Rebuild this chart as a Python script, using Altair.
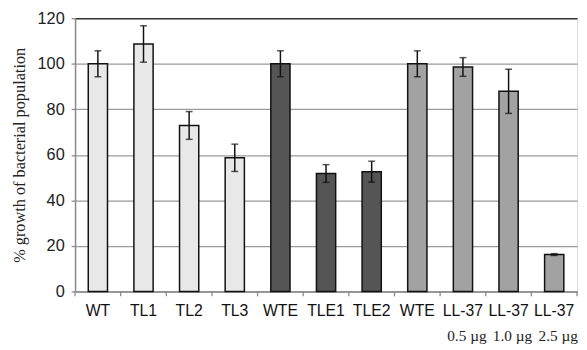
import altair as alt
import pandas as pd

ids = ["WT|1", "TL1|1", "TL2|1", "TL3|1", "WTE|1", "TLE1|1", "TLE2|1",
       "WTE|2", "LL-37|1", "LL-37|2", "LL-37|3"]
values = [100, 108.7, 72.9, 58.7, 100, 51.8, 52.6, 100, 98.6, 87.9, 16.2]
errors = [5.7, 8.0, 6.1, 6.0, 5.7, 3.9, 4.6, 5.7, 4.1, 9.7, 0.4]
groups = ["dots"] * 4 + ["check"] * 3 + ["hatch"] * 4
doses = ["", "", "", "", "", "", "", "", "0.5 µg", "1.0 µg", "2.5 µg"]

df = pd.DataFrame({
    "id": ids,
    "value": values,
    "lo": [v - e for v, e in zip(values, errors)],
    "hi": [v + e for v, e in zip(values, errors)],
    "group": groups,
    "dose": doses,
})

W, H = 509, 277

xenc = alt.X("id:N", sort=ids, scale=alt.Scale(paddingInner=0, paddingOuter=0),
             axis=alt.Axis(title=None, labelExpr="split(datum.value, '|')[0]",
                           labelAngle=0, ticks=False, labelPadding=11,
                           labelFont="Liberation Sans", labelFontSize=16,
                           labelColor="#111", domainColor="#8a8a8a",
                           domainWidth=1.5, grid=False))

yenc = alt.Y("value:Q", scale=alt.Scale(domain=[0, 120]),
             axis=alt.Axis(title="% growth of bacterial population",
                           values=[0, 20, 40, 60, 80, 100, 120],
                           titleFont="Liberation Serif", titleFontSize=16.5,
                           titleFontWeight="normal", titleColor="#222",
                           titlePadding=10,
                           labelFont="Liberation Sans", labelFontSize=16.5,
                           labelColor="#222", labelPadding=7,
                           tickSize=4, tickColor="#8a8a8a", tickWidth=1.3,
                           domainColor="#8a8a8a", domainWidth=1.5,
                           grid=True, gridWidth=1.3,
                           gridColor={"condition": {"test": "datum.value >= 120", "value": "#333"},
                                      "value": "#9a9a9a"}))

base = alt.Chart(df)

bars = base.mark_bar(size=19.5, stroke="#111", strokeWidth=1.5).encode(
    x=xenc,
    y=yenc,
    fill=alt.Fill("group:N", legend=None,
                  scale=alt.Scale(domain=["dots", "check", "hatch"],
                                  range=["#e8e8e8", "#555555", "#a2a2a2"])),
)

err = base.mark_rule(color="#111", strokeWidth=1.5).encode(
    x=alt.X("id:N", sort=ids), y="lo:Q", y2="hi:Q")
cap_hi = base.mark_tick(color="#111", size=7, thickness=1.5).encode(
    x=alt.X("id:N", sort=ids), y="hi:Q")
cap_lo = base.mark_tick(color="#111", size=7, thickness=1.5).encode(
    x=alt.X("id:N", sort=ids), y="lo:Q")

ticks = base.mark_rule(color="#8a8a8a", strokeWidth=1.3).encode(
    x=alt.X("id:N", sort=ids, bandPosition=0),
    y=alt.value(H), y2=alt.value(H + 5))
last_tick = base.transform_filter(alt.datum.id == ids[-1]).mark_rule(
    color="#8a8a8a", strokeWidth=1.3).encode(
    x=alt.X("id:N", sort=ids, bandPosition=1),
    y=alt.value(H), y2=alt.value(H + 5))

dose_text = base.transform_filter(alt.datum.dose != "").mark_text(
    font="Liberation Serif", fontSize=15.5, color="#222", dx=4, baseline="middle").encode(
    x=alt.X("id:N", sort=ids), y=alt.value(H + 45), text="dose:N")

chart = alt.layer(bars, err, cap_hi, cap_lo, ticks, last_tick, dose_text).properties(
    width=W, height=H,
    autosize=alt.AutoSizeParams(type="none"),
    padding={"left": 68, "top": 8, "right": 2, "bottom": 57},
).configure_view(stroke="#333", strokeWidth=1.5).configure(background="white")

chart.save("out.html", embed_options={"renderer": "svg", "actions": False})
